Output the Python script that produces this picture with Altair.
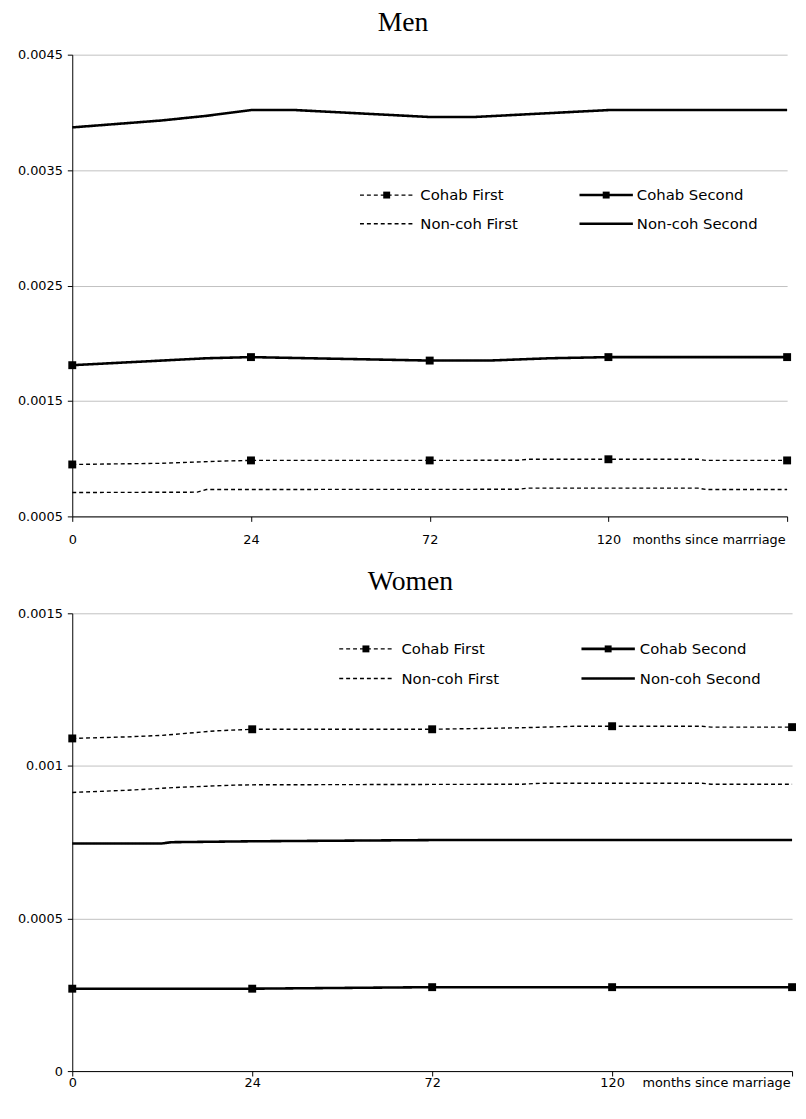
import altair as alt
import pandas as pd

SERIES = ["Cohab First", "Cohab Second", "Non-coh First", "Non-coh Second"]
MEN_XLABELS = ["0", "24", "72", "120", "months since marrriage"]
WOMEN_XLABELS = ["0", "24", "72", "120", "months since marriage"]
MEN_YTICKS = [0.0005, 0.0015, 0.0025, 0.0035, 0.0045]
WOMEN_YTICKS = [0, 0.0005, 0.001, 0.0015]

# x positions are the category slots 0..4 (0, 24, 72, 120, last)
men_cf_pos = [0, 0.5, 0.85, 1, 2, 2.5, 2.55, 3, 3.5, 3.55, 4]
men_cf_val = [0.00095, 0.00096, 0.00098, 0.000985, 0.000985, 0.000987, 0.000995, 0.000995, 0.000995, 0.000985, 0.000985]
men_cs_pos = [0, 0.25, 0.5, 0.75, 1, 1.33, 1.67, 2, 2.33, 2.67, 3, 4]
men_cs_val = [0.00181, 0.00183, 0.00185, 0.00187, 0.00188, 0.00187, 0.00186, 0.00185, 0.00185, 0.00187, 0.00188, 0.00188]
men_nf_pos = [0, 0.7, 0.75, 2.5, 2.55, 3.5, 3.55, 4]
men_nf_val = [0.000707, 0.00071, 0.000733, 0.000735, 0.000745, 0.000745, 0.000733, 0.000733]
men_ns_pos = [0, 0.25, 0.5, 0.75, 1, 1.25, 1.5, 1.75, 2, 2.25, 2.5, 2.75, 3, 3.5, 4]
men_ns_val = [0.00387, 0.0039, 0.00393, 0.00397, 0.00402, 0.00402, 0.004, 0.00398, 0.00396, 0.00396, 0.00398, 0.004, 0.00402, 0.00402, 0.00402]

wom_cf_pos = [0, 0.3, 0.5, 0.8, 1, 2, 2.5, 2.8, 3, 3.5, 3.55, 4]
wom_cf_val = [0.00109, 0.001095, 0.0011, 0.001115, 0.00112, 0.00112, 0.001125, 0.00113, 0.00113, 0.00113, 0.001127, 0.001127]
wom_cs_pos = [0, 1, 2, 3, 4]
wom_cs_val = [0.00027, 0.00027, 0.000275, 0.000275, 0.000275]
wom_nf_pos = [0, 0.3, 0.6, 0.9, 1, 2.5, 2.6, 3.5, 3.55, 4]
wom_nf_val = [0.000913, 0.00092, 0.00093, 0.000937, 0.000938, 0.00094, 0.000943, 0.000943, 0.00094, 0.00094]
wom_ns_pos = [0, 0.5, 0.55, 1, 2, 4]
wom_ns_val = [0.000746, 0.000746, 0.00075, 0.000753, 0.000757, 0.000757]


def long_df(parts):
    rows = []
    for name, pos, val in parts:
        for p, v in zip(pos, val):
            rows.append({"series": name, "pos": p, "value": v})
    return pd.DataFrame(rows)


men_df = long_df([
    ("Cohab First", men_cf_pos, men_cf_val),
    ("Cohab Second", men_cs_pos, men_cs_val),
    ("Non-coh First", men_nf_pos, men_nf_val),
    ("Non-coh Second", men_ns_pos, men_ns_val),
])
wom_df = long_df([
    ("Cohab First", wom_cf_pos, wom_cf_val),
    ("Cohab Second", wom_cs_pos, wom_cs_val),
    ("Non-coh First", wom_nf_pos, wom_nf_val),
    ("Non-coh Second", wom_ns_pos, wom_ns_val),
])

# legend entries: two columns, two rows (row-major order of SERIES)
leg_df = pd.DataFrame({"series": SERIES,
                       "col": [i % 2 for i in range(len(SERIES))],
                       "row": [i // 2 for i in range(len(SERIES))]})

THIN_SERIES = ["Cohab First", "Non-coh First"]
THICK_SERIES = ["Cohab Second", "Non-coh Second"]
MARKED_SERIES = ["Cohab First", "Cohab Second"]

AX_FONT = "'DejaVu Sans', sans-serif"
LEG_FONT = "'DejaVu Sans', sans-serif"
TITLE_FONT = "'Liberation Serif', 'DejaVu Serif', serif"
SYM_LEN = 54


def panel(title, df, ydom, yticks, xlabels, lx, colstep, ly, rowstep, txt_off,
          height, width, extent, title_dx, xpad):
    label_expr = "[" + ",".join("'" + s + "'" for s in xlabels) + "][datum.value]"
    xaxis = alt.Axis(values=[0, 1, 2, 3, 4], labelExpr=label_expr, title=None, grid=False,
                     labelFlush=False, labelOverlap=False, labelPadding=xpad,
                     labelAlign={"condition": {"test": "datum.value == 4", "value": "right"}, "value": "center"},
                     labelOffset={"condition": {"test": "datum.value == 4", "value": -2}, "value": 0})
    yaxis = alt.Axis(values=yticks, format=".4~f", title=None, grid=True, gridColor="#c0c0c0",
                     labelOverlap=False, labelFlush=False, minExtent=extent, maxExtent=extent,
                     labelPadding=5)
    dash = alt.StrokeDash("series:N", scale=alt.Scale(domain=SERIES, range=[[4, 3], [1, 0], [4, 3], [1, 0]]),
                          legend=None)
    base = alt.Chart(df).encode(
        x=alt.X("pos:Q", scale=alt.Scale(domain=[0, 4], nice=False), axis=xaxis),
        y=alt.Y("value:Q", scale=alt.Scale(domain=ydom, nice=False, zero=False), axis=yaxis),
    )
    thin = base.transform_filter(
        alt.FieldOneOfPredicate(field="series", oneOf=THIN_SERIES)
    ).mark_line(color="black", strokeWidth=1.4).encode(strokeDash=dash, order="pos:Q")
    thick = base.transform_filter(
        alt.FieldOneOfPredicate(field="series", oneOf=THICK_SERIES)
    ).mark_line(color="black", strokeWidth=2.6).encode(strokeDash=dash, order="pos:Q")
    markers = base.transform_filter(
        alt.FieldOneOfPredicate(field="series", oneOf=MARKED_SERIES)
    ).transform_filter("datum.pos % 1 == 0").mark_square(size=64, color="black", opacity=1)

    # key drawn in the plot area's pixel space
    lbase = alt.Chart(leg_df).transform_calculate(
        lx=f"{lx} + datum.col * {colstep}",
        lx2=f"{lx} + datum.col * {colstep} + {SYM_LEN}",
        mx=f"{lx} + datum.col * {colstep} + {SYM_LEN / 2}",
        tx=f"{lx} + datum.col * {colstep} + {txt_off[0]} + datum.col * {txt_off[1] - txt_off[0]}",
        ly=f"{ly} + datum.row * {rowstep}",
    )
    lx_enc = alt.X("lx:Q", scale=None, axis=None)
    ly_enc = alt.Y("ly:Q", scale=None, axis=None)
    key_thin = lbase.transform_filter(
        alt.FieldOneOfPredicate(field="series", oneOf=THIN_SERIES)
    ).mark_rule(color="black", strokeWidth=1.4).encode(x=lx_enc, x2="lx2:Q", y=ly_enc, strokeDash=dash)
    key_thick = lbase.transform_filter(
        alt.FieldOneOfPredicate(field="series", oneOf=THICK_SERIES)
    ).mark_rule(color="black", strokeWidth=2.6).encode(x=lx_enc, x2="lx2:Q", y=ly_enc, strokeDash=dash)
    key_sq = lbase.transform_filter(
        alt.FieldOneOfPredicate(field="series", oneOf=MARKED_SERIES)
    ).mark_square(size=49, color="black", opacity=1).encode(
        x=alt.X("mx:Q", scale=None, axis=None), y=ly_enc)
    key_txt = lbase.mark_text(align="left", baseline="middle", font=LEG_FONT, fontSize=15,
                              color="black").encode(
        x=alt.X("tx:Q", scale=None, axis=None), y=ly_enc, text="series:N")

    return alt.layer(thin, thick, markers, key_thin, key_thick, key_sq, key_txt).properties(
        width=width, height=height,
        title=alt.TitleParams(title, font=TITLE_FONT, fontSize=28, fontWeight="normal", color="black",
                              anchor="middle", dx=title_dx, offset=12),
    )


men = panel("Men", men_df, [0.0005, 0.0045], MEN_YTICKS, MEN_XLABELS,
            291, 222, 142, 29, (61, 58), 467, 723, 62, -27, 12)
women = panel("Women", wom_df, [0, 0.0015], WOMEN_YTICKS, WOMEN_XLABELS,
              270, 245, 36, 30, (63, 59), 463, 728, 57, -22, 1)

chart = alt.vconcat(men, women, spacing=20).properties(
    padding={"left": 2, "top": -6, "right": 0, "bottom": 0}
).configure_view(stroke="transparent").configure_axis(
    labelFont=AX_FONT, labelFontSize=13, labelColor="black", domainColor="black",
    tickColor="black", tickSize=5
).configure_concat(spacing=20)

chart.save("out.html", embed_options={"renderer": "svg", "actions": False})
